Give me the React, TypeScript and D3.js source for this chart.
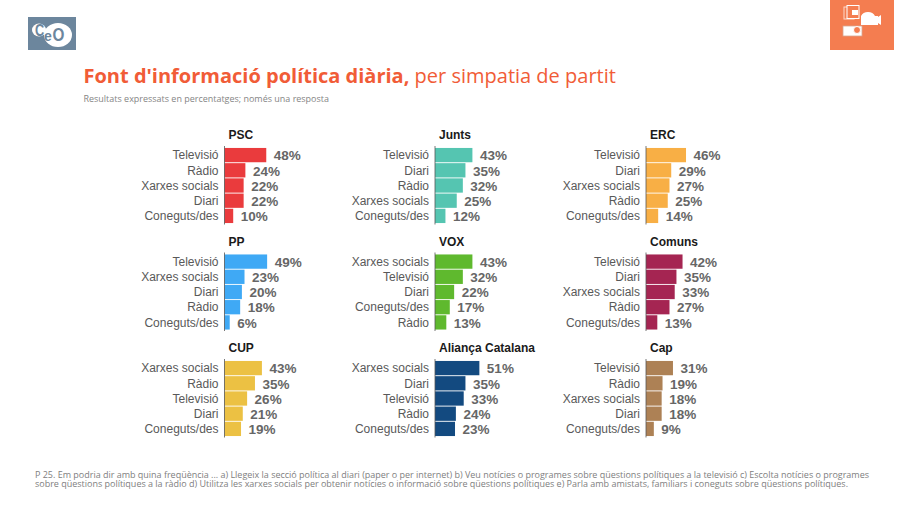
import React from 'react';
import * as d3 from 'd3';

// Parties
const parties = ['PSC', 'Junts', 'ERC', 'PP', 'VOX', 'Comuns', 'CUP', 'Aliança Catalana', 'Cap'];

const categories = [
  ['Televisió', 'Ràdio', 'Xarxes socials', 'Diari', 'Coneguts/des'],
  ['Televisió', 'Diari', 'Ràdio', 'Xarxes socials', 'Coneguts/des'],
  ['Televisió', 'Diari', 'Xarxes socials', 'Ràdio', 'Coneguts/des'],
  ['Televisió', 'Xarxes socials', 'Diari', 'Ràdio', 'Coneguts/des'],
  ['Xarxes socials', 'Televisió', 'Diari', 'Coneguts/des', 'Ràdio'],
  ['Televisió', 'Diari', 'Xarxes socials', 'Ràdio', 'Coneguts/des'],
  ['Xarxes socials', 'Ràdio', 'Televisió', 'Diari', 'Coneguts/des'],
  ['Xarxes socials', 'Diari', 'Televisió', 'Ràdio', 'Coneguts/des'],
  ['Televisió', 'Ràdio', 'Xarxes socials', 'Diari', 'Coneguts/des'],
];

const values = [
  [48, 24, 22, 22, 10],
  [43, 35, 32, 25, 12],
  [46, 29, 27, 25, 14],
  [49, 23, 20, 18, 6],
  [43, 32, 22, 17, 13],
  [42, 35, 33, 27, 13],
  [43, 35, 26, 21, 19],
  [51, 35, 33, 24, 23],
  [31, 19, 18, 18, 9],
];

const colors = ['#ea3b3d', '#55c5b1', '#f8af45', '#3fa9f5', '#5fb92e', '#a52552', '#ecc143', '#134a80', '#ad8155'];

const footnote = [
  'P 25. Em podria dir amb quina freqüència ... a) Llegeix la secció política al diari (paper o per internet) b) Veu notícies o programes sobre qüestions polítiques a la televisió c) Escolta notícies o programes',
  'sobre qüestions polítiques a la ràdio d) Utilitza les xarxes socials per obtenir notícies o informació sobre qüestions polítiques e) Parla amb amistats, familiars i coneguts sobre qüestions polítiques.',
];
const footnoteWidths = [834, 813];

const width = 922;
const height = 506;
const openSans = '"Open Sans", sans-serif';
const arial = '"Liberation Sans", Arial, sans-serif';

// Column and row origins of the small multiples
const colX = [224.5, 435, 646];
const rowY = [147.5, 254, 360.5];
const panelHeight = 76;

const x = d3.scaleLinear().domain([0, 100]).range([0, 87]);

const Panel = ({ index }: { index: number }) => {
  const left = colX[index % 3];
  const top = rowY[Math.floor(index / 3)];
  const y = d3.scaleBand<string>()
    .domain(categories[index])
    .range([0, panelHeight])
    .paddingInner(0.06)
    .paddingOuter(0.03);

  return (
    <g transform={`translate(${left},${top})`}>
      <text x={4} y={-8.5} fontFamily={arial} fontSize={12} fontWeight="bold" fill="#1a1a1a">
        {parties[index]}
      </text>
      {categories[index].map((c, i) => (
        <g key={c}>
          <rect x={0} y={y(c)} width={x(values[index][i])} height={y.bandwidth()} fill={colors[index]} />
          <text
            x={-6}
            y={y(c)! + y.bandwidth() / 2}
            dy="0.35em"
            textAnchor="end"
            fontFamily={arial}
            fontSize={12}
            fill="#595959"
          >
            {c}
          </text>
          <text
            x={x(values[index][i]) + 7.5}
            y={y(c)! + y.bandwidth() / 2 + 0.5}
            dy="0.35em"
            fontFamily={arial}
            fontSize={13.5}
            fontWeight="bold"
            fill="#666666"
          >
            {values[index][i]}%
          </text>
        </g>
      ))}
      <line x1={0} x2={0} y1={-1.5} y2={panelHeight + 1} stroke="#555555" strokeWidth={0.8} />
    </g>
  );
};

// CEO logo, top left
const Logo = () => (
  <g>
    <rect x={28} y={17} width={48} height={33} fill="#6c869d" />
    <ellipse cx={39} cy={30} rx={7} ry={6.5} fill="#fff" />
    <ellipse cx={58} cy={35} rx={14} ry={12} fill="#fff" />
    <text transform="translate(35,36) scale(0.75,1)" fontFamily={arial} fontSize={17} fontWeight="bold" fill="#6c869d">C</text>
    <text x={44} y={41} fontFamily={arial} fontSize={14} fontWeight="bold" fill="#6c869d">e</text>
    <text transform="translate(52.5,41) scale(0.85,1)" fontFamily={arial} fontSize={18} fontWeight="bold" fill="#6c869d">O</text>
  </g>
);

// Media icons on the orange tab, top right
const MediaIcon = () => (
  <g>
    <rect x={830} y={0} width={64} height={50} fill="#f47d50" />
    <rect x={844} y={7} width={10} height={12} fill="none" stroke="#fbd9c9" strokeWidth={1} />
    <rect x={847} y={5.5} width={12} height={13} fill="#f47d50" stroke="#fff" strokeWidth={1} />
    <rect x={852} y={10} width={6} height={5} fill="#fff" />
    <path d="M861 16 Q863 12 868 12 Q873 12 875 16 L878 16 L878 17 L881 15 L881 25 L878 23 L878 25 L861 25 Z" fill="#fff" />
    <rect x={843} y={26} width={19} height={10} fill="#fff" stroke="#d9a58f" strokeWidth={0.8} />
    <circle cx={857} cy={30} r={3.5} fill="#f47d50" stroke="#fff" strokeWidth={1} />
  </g>
);

const App = () => (
  <svg
    width={width}
    height={height}
    viewBox={`0 0 ${width} ${height}`}
    style={{ position: 'absolute', left: 0, top: 0, background: '#fff' }}
  >
    <Logo />
    <MediaIcon />
    <text x={83.5} y={83} fontFamily={openSans} fontSize={20} fill="#f15c37">
      <tspan fontWeight="bold">Font d'informació política diària,</tspan>
      <tspan> per simpatia de partit</tspan>
    </text>
    <text x={83.5} y={102} fontFamily={openSans} fontSize={8.97} fill="#858585">
      Resultats expressats en percentatges; només una resposta
    </text>
    {parties.map((p, i) => <Panel key={p} index={i} />)}
    {footnote.map((line, i) => (
      <text
        key={i}
        x={35}
        y={477.5 + i * 9.5}
        fontFamily={openSans}
        fontSize={9}
        fill="#808080"
        textLength={footnoteWidths[i]}
      >
        {line}
      </text>
    ))}
  </svg>
);

export default App;
